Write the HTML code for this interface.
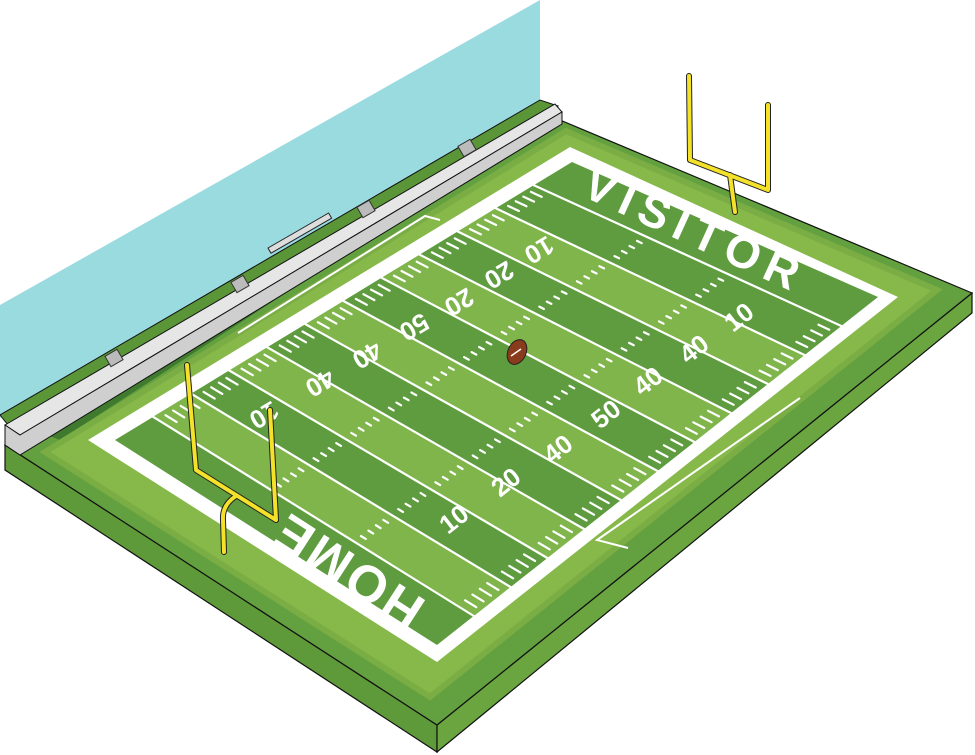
<!DOCTYPE html>
<html><head><meta charset="utf-8"><style>
html,body{margin:0;padding:0;background:#fff;width:975px;height:755px;overflow:hidden}
svg{display:block}
text{font-family:"Liberation Sans",sans-serif;font-weight:bold;fill:#fff}
</style></head><body>
<svg id="s" width="975" height="755" viewBox="0 0 975 755" xmlns="http://www.w3.org/2000/svg">
<polygon points="0,305 540,0 540,102 0,418" fill="#9adbe0"/>
<polygon points="5,445 437,725 437,752 5,470" fill="#5f9a3a" stroke="#111" stroke-width="1.2"/>
<polygon points="437,725 972,293 972,313 437,752" fill="#6aa540" stroke="#111" stroke-width="1.2"/>
<polygon points="5,445 560,120 972,293 437,725" fill="#63a040" stroke="#111" stroke-width="1.2"/>
<polygon points="0,415 540,100 558,106 8,425" fill="#5a9538" stroke="#111" stroke-width="1"/>
<polygon points="40,432 555,110 558,116 60,440" fill="#3f7a2e"/>
<polygon points="5,425 555,104 562,112 20,435" fill="#e6e6e6" stroke="#111" stroke-width="1"/>
<polygon points="20,435 562,112 562,124 20,455 5,445 5,425" fill="#cfcfcf" stroke="#111" stroke-width="1"/>
<polygon points="45,452 566,131 937,290 430,697" fill="#86b84a"/>
<polygon points="45,452 566,131 937,290 430,697" fill="none" stroke="#7aad44" stroke-width="6"/>
<polygon points="88,440 570,147 898,297 437,662" fill="#fff"/>
<g id="field"></g>
<polyline points="238,333 425,216 440,220" fill="none" stroke="#fff" stroke-width="2"/>
<polyline points="800,398 597,540 628,548" fill="none" stroke="#fff" stroke-width="2"/>
<rect x="268" y="248" width="70" height="6" fill="#ddd" stroke="#222" transform="rotate(-30 268 248)"/>
<g fill="#bbb" stroke="#333" stroke-width="1">
<rect x="107" y="352" width="14" height="12" transform="rotate(-30 114 358)"/>
<rect x="233" y="278" width="14" height="12" transform="rotate(-30 240 284)"/>
<rect x="359" y="203" width="14" height="12" transform="rotate(-30 366 209)"/>
<rect x="460" y="142" width="14" height="12" transform="rotate(-30 467 148)"/>
</g>
<text x="0" y="0" font-size="52" transform="translate(428,602) rotate(213)" letter-spacing="3">HOME</text>
<text x="0" y="0" font-size="46" transform="translate(580,195) rotate(24.5)" letter-spacing="8">VISITOR</text>
<g font-size="26">
<text transform="translate(448,535) rotate(-38)">10</text>
<text transform="translate(500,498) rotate(-38)">20</text>
<text transform="translate(552,465) rotate(-38)">40</text>
<text transform="translate(600,430) rotate(-38)">50</text>
<text transform="translate(642,397) rotate(-38)">40</text>
<text transform="translate(688,365) rotate(-38)">40</text>
<text transform="translate(733,333) rotate(-38)">10</text>
<text transform="translate(272,400) rotate(149)">10</text>
<text transform="translate(328,368) rotate(149)">40</text>
<text transform="translate(375,340) rotate(149)">40</text>
<text transform="translate(422,312) rotate(149)">50</text>
<text transform="translate(467,287) rotate(149)">20</text>
<text transform="translate(507,260) rotate(149)">20</text>
<text transform="translate(547,235) rotate(149)">10</text>
</g>
<g fill="none" stroke="#222" stroke-width="6" stroke-linecap="round" stroke-linejoin="round">
<path d="M187,365 L196,470 L276,520 L270,410 M236,496 Q222,505 223,520 L224,552"/>
<path d="M689,76 L690,160 L768,190 L768,105 M730,175 L735,212"/>
</g>
<g fill="none" stroke="#f3e12a" stroke-width="4" stroke-linecap="round" stroke-linejoin="round">
<path d="M187,365 L196,470 L276,520 L270,410 M236,496 Q222,505 223,520 L224,552"/>
<path d="M689,76 L690,160 L768,190 L768,105 M730,175 L735,212"/>
</g>
<ellipse cx="517" cy="352" rx="13" ry="9" fill="#8a3b1c" stroke="#222" stroke-width="1" transform="rotate(-65 517 352)"/>
<line x1="511" y1="356" x2="521" y2="349" stroke="#fff" stroke-width="1.5"/>
</svg>
<script>
(function(){
var A=[115,440],B=[572,162],C=[878,297],D=[437,645];
function P(u,v){return [(1-u)*(1-v)*A[0]+u*(1-v)*B[0]+u*v*C[0]+(1-u)*v*D[0],(1-u)*(1-v)*A[1]+u*(1-v)*B[1]+u*v*C[1]+(1-u)*v*D[1]];}
function q(u0,u1,v0,v1,f){var p=[P(u0,v0),P(u1,v0),P(u1,v1),P(u0,v1)];return '<polygon points="'+p.map(function(x){return x[0].toFixed(1)+','+x[1].toFixed(1)}).join(' ')+'" fill="'+f+'"/>';}
function ln(u0,v0,u1,v1,w){var a=P(u0,v0),b=P(u1,v1);return '<line x1="'+a[0].toFixed(1)+'" y1="'+a[1].toFixed(1)+'" x2="'+b[0].toFixed(1)+'" y2="'+b[1].toFixed(1)+'" stroke="#fff" stroke-width="'+w+'" stroke-linecap="round"/>';}
var h='';
h+=q(0,1,0,1,'#5e9c3f');
for(var i=0;i<10;i++){var u0=(10+i*10)/120,u1=(20+i*10)/120;h+=q(u0,u1,0,1,i%2?'#5e9c3f':'#7fb54b');}
for(var y=0;y<=100;y+=10){h+=ln((10+y)/120,0,(10+y)/120,1,2.2);}
for(var y=2;y<100;y+=2){var u=(10+y)/120;
if(y%10==0)continue;
h+=ln(u,0.015,u,0.05,2.2);h+=ln(u,0.95,u,0.985,2.2);
h+=ln(u,0.36,u,0.375,2.2);h+=ln(u,0.625,u,0.64,2.2);}
document.getElementById('field').innerHTML=h;
})();
</script>
</body></html>
